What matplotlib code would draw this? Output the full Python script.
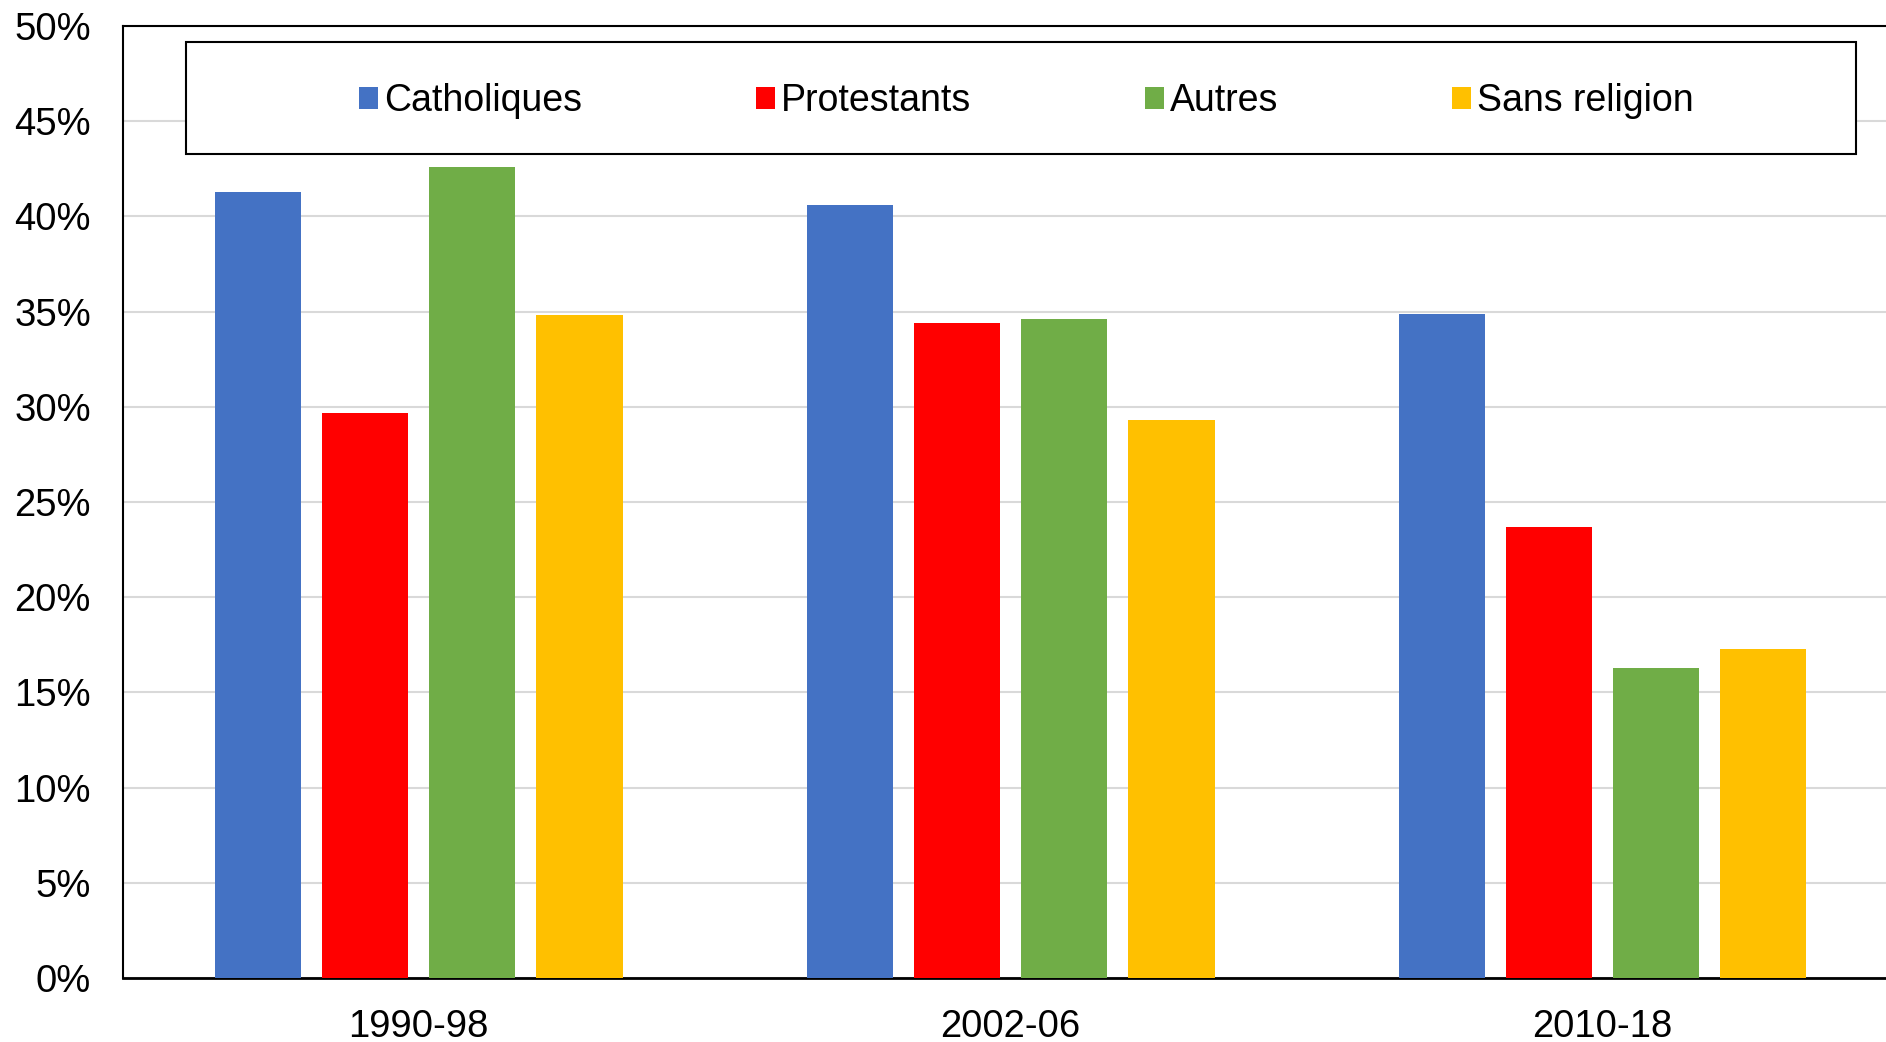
import numpy as np
import matplotlib.pyplot as plt
from matplotlib.patches import Rectangle
from matplotlib.ticker import PercentFormatter

plt.rcParams['font.family'] = ['Liberation Sans', 'DejaVu Sans']

periods = ['1990-98', '2002-06', '2010-18']
series = ['Catholiques', 'Protestants', 'Autres', 'Sans religion']
catholiques = [41.3, 40.6, 34.9]
protestants = [29.7, 34.4, 23.7]
autres = [42.6, 34.6, 16.3]
sans_religion = [34.8, 29.3, 17.3]
colors = ['#4472C4', '#FF0000', '#70AD47', '#FFC000']

values = [catholiques, protestants, autres, sans_religion]

fig = plt.figure(figsize=(18.86, 10.42), dpi=100)
ax = fig.add_axes([0.0651, 0.0614, 0.9415, 0.9136])

x = np.arange(len(periods))
pitch = 0.181
width = 0.146
for i, (name, vals) in enumerate(zip(series, values)):
    ax.bar(x + (i - 1.5) * pitch, vals, width, color=colors[i], label=name, zorder=3)

ax.set_xlim(-0.5, 2.5)
ax.set_ylim(0, 50)
ax.set_yticks(np.arange(0, 51, 5))
ax.yaxis.set_major_formatter(PercentFormatter(decimals=0))
ax.set_xticks(x)
ax.set_xticklabels(periods)
ax.tick_params(axis='both', length=0, labelsize=27.5)
ax.tick_params(axis='y', pad=23)
ax.tick_params(axis='x', pad=22)
ax.grid(axis='y', color='#d9d9d9', linewidth=1.5, zorder=0)

for s in ['left', 'bottom', 'top']:
    ax.spines[s].set_color('black')
    ax.spines[s].set_linewidth(1.5)
ax.spines['bottom'].set_linewidth(2)
ax.spines['right'].set_visible(False)

# legend box
ax.add_patch(Rectangle((0.0356, 0.8655), 0.9404, 0.1175, transform=ax.transAxes,
                       facecolor='white', edgecolor='black', linewidth=1.5, zorder=4))
ax.legend(loc='center', bbox_to_anchor=(0.509, 0.921), ncol=4, frameon=False,
          fontsize=27, handlelength=0.5, handleheight=0.5, handletextpad=0.18,
          columnspacing=4.62, borderpad=0)
ax.get_legend().set_zorder(5)

plt.savefig('out.png', dpi=100)
